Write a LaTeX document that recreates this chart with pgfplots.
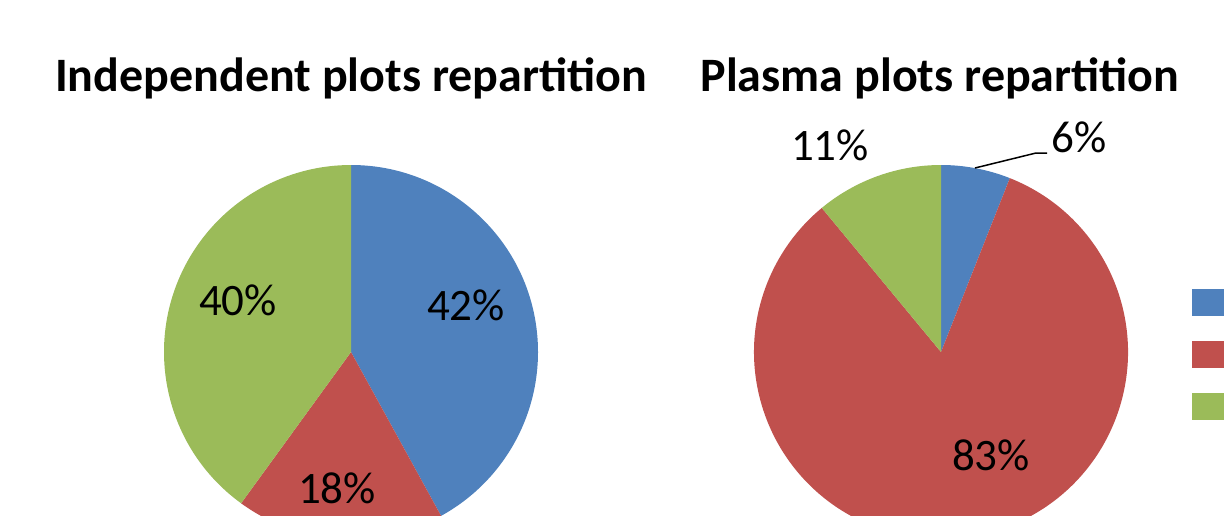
\documentclass[border=0pt]{standalone}
\usepackage{pgfplots}
\usepackage{pgfplotstable}
\pgfplotsset{compat=1.18}
\usepackage{fontspec}
\setmainfont{Carlito}
\definecolor{pieblue}{HTML}{4F81BD}
\definecolor{piered}{HTML}{C0504D}
\definecolor{piegreen}{HTML}{9BBB59}

\pgfplotstableread{
share color
42 pieblue
18 piered
40 piegreen
}\indeptable

\pgfplotstableread{
share color
6 pieblue
83 piered
11 piegreen
}\plasmatable

% axis units: 1 unit = 0.5pt
% #1 table, #2 cx, #3 cy, #4 radius (axis units)
\newcommand\drawpie[4]{%
  \def\cum{0}%
  \pgfplotstablegetrowsof{#1}%
  \pgfmathtruncatemacro\nrows{\pgfplotsretval-1}%
  \pgfplotsforeachungrouped \i in {0,...,\nrows}{%
    \pgfplotstablegetelem{\i}{share}\of#1\let\val\pgfplotsretval
    \pgfplotstablegetelem{\i}{color}\of#1\let\col\pgfplotsretval
    \pgfmathsetmacro\a{90-3.6*\cum}%
    \pgfmathsetmacro\b{90-3.6*(\cum+\val)}%
    \pgfmathsetmacro\sx{#2+#4*cos(\a)}%
    \pgfmathsetmacro\sy{#3+#4*sin(\a)}%
    \pgfmathsetmacro\rr{#4*0.5}%
    \edef\tmp{\noexpand\fill[\col] (axis cs:#2,#3) -- (axis cs:\sx,\sy) arc[start angle=\a, end angle=\b, radius=\rr pt] -- cycle;}%
    \tmp
    \pgfmathsetmacro\cum{\cum+\val}%
  }}

\begin{document}
\begin{tikzpicture}
\begin{axis}[
  scale only axis, width=612pt, height=257.5pt,
  xmin=0, xmax=1224, ymin=0, ymax=515,
  hide axis, clip=true, clip bounding box=upper bound,
]
\path (axis cs:0,0) rectangle (axis cs:1224,515);
\drawpie{\indeptable}{351}{163}{187}
\drawpie{\plasmatable}{941}{163}{187}

% titles
\node[anchor=base, font=\fontsize{24}{29}\selectfont\bfseries] at (axis cs:351,423) {Independent plots repartition};
\node[anchor=base, font=\fontsize{24}{29}\selectfont\bfseries] at (axis cs:940,423) {Plasma plots repartition};

% data labels
\node[anchor=base, font=\fontsize{22.5}{27}\selectfont] at (axis cs:466,195) {42\%};
\node[anchor=base, font=\fontsize{22.5}{27}\selectfont] at (axis cs:238,200) {40\%};
\node[anchor=base, font=\fontsize{22.5}{27}\selectfont] at (axis cs:337,12) {18\%};
\node[anchor=base, font=\fontsize{22.5}{27}\selectfont] at (axis cs:991,45) {83\%};
\node[anchor=base, font=\fontsize{22.5}{27}\selectfont] at (axis cs:830,355) {11\%};
\node[anchor=base, font=\fontsize{22.5}{27}\selectfont] at (axis cs:1079,363) {6\%};
\draw[black, line width=0.75pt] (axis cs:975,347) -- (axis cs:1036,362) -- (axis cs:1047,362);

% legend keys (cut off at the right edge)
\fill[pieblue] (axis cs:1192,226) rectangle (axis cs:1240,199);
\fill[piered] (axis cs:1192,174) rectangle (axis cs:1240,147);
\fill[piegreen] (axis cs:1192,122) rectangle (axis cs:1240,95);
\end{axis}
\end{tikzpicture}
\end{document}
